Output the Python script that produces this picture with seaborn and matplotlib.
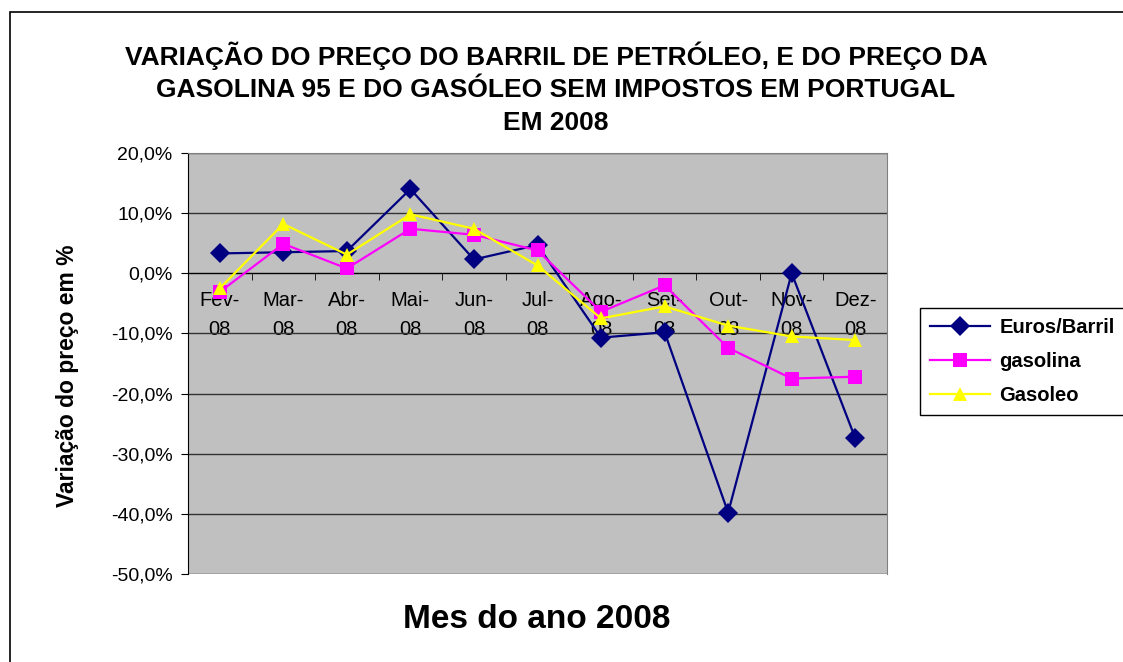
import numpy as np
import pandas as pd
import matplotlib
matplotlib.use('Agg')
import matplotlib.pyplot as plt
import seaborn as sns
from matplotlib.ticker import FuncFormatter, FixedLocator
from matplotlib.lines import Line2D
from matplotlib.patches import Rectangle

meses = ['Fev-\n08', 'Mar-\n08', 'Abr-\n08', 'Mai-\n08', 'Jun-\n08', 'Jul-\n08',
         'Ago-\n08', 'Set-\n08', 'Out-\n08', 'Nov-\n08', 'Dez-\n08']
euros_barril = [3.3, 3.5, 3.7, 14.0, 2.3, 4.7, -10.7, -9.8, -39.8, 0.0, -27.4]
gasolina = [-3.1, 4.9, 0.8, 7.4, 6.4, 3.8, -6.4, -2.0, -12.4, -17.5, -17.2]
gasoleo = [-2.5, 8.2, 3.1, 9.8, 7.4, 1.3, -7.5, -5.5, -8.7, -10.5, -11.1]
series = ['Euros/Barril', 'gasolina', 'Gasoleo']
cores = ['#000080', '#FF00FF', '#FFFF00']
marcadores = ['D', 's', '^']

df = pd.DataFrame({
    'pos': list(range(len(meses))) * 3,
    'valor': euros_barril + gasolina + gasoleo,
    'serie': [s for s in series for _ in meses],
})

plt.rcParams['font.family'] = ['Liberation Sans', 'DejaVu Sans']

fig = plt.figure(figsize=(11.23, 6.62), dpi=100)
ax = fig.add_axes([188/1123, 1-574/662, (887-188)/1123, (574-153)/662])
ax.set_facecolor('#C0C0C0')

# chart border
fig.patches.append(Rectangle((10/1123, -0.05), 1.2, 1-12/662+0.05, transform=fig.transFigure,
                             fill=False, edgecolor='black', linewidth=1.2, zorder=0))

sns.lineplot(data=df, x='pos', y='valor', hue='serie', style='serie', hue_order=series,
             palette=cores, markers=marcadores, dashes=False, markersize=10,
             markeredgewidth=0, linewidth=1.6, legend=False, ax=ax, zorder=3)

ax.set_ylim(-50, 20)
ax.set_xlim(-0.5, len(meses) - 0.5)
ax.yaxis.set_major_locator(FixedLocator(np.arange(-50, 21, 10)))
ax.yaxis.set_major_formatter(FuncFormatter(lambda v, p: f'{v:.1f}%'.replace('.', ',')))
ax.grid(axis='y', color='#333333', linewidth=1.0, zorder=1)
ax.set_axisbelow(True)
ax.tick_params(axis='y', labelsize=14, length=5, direction='out', color='black', pad=6)

# category axis crossing at zero
ax.spines['bottom'].set_position(('data', 0))
ax.spines['bottom'].set_color('black')
ax.spines['bottom'].set_zorder(2)
for s in ['top', 'right']:
    ax.spines[s].set_color('#808080')
ax.spines['left'].set_color('black')
ax.set_xticks(range(len(meses)))
ax.set_xticklabels(meses, fontsize=14.5, linespacing=1.65)
ax.set_xticks(np.arange(0.5, len(meses) - 0.5, 1), minor=True)
ax.tick_params(axis='x', which='major', length=0, pad=13)
ax.tick_params(axis='x', which='minor', length=5, direction='out', color='black')
ax.set_xlabel('')
ax.set_ylabel('Variação do preço em %', fontsize=16.5, fontweight='bold')
ax.yaxis.set_label_coords(-0.156, 0.47)

fig.text(556/1123, 1-88/662, 'VARIAÇÃO DO PREÇO DO BARRIL DE PETRÓLEO, E DO PREÇO DA\n'
         'GASOLINA 95 E DO GASÓLEO SEM IMPOSTOS EM PORTUGAL\nEM 2008',
         ha='center', va='center', fontsize=19, fontweight='bold', linespacing=1.45)
fig.text(537/1123, 1-620/662, 'Mes do ano 2008', ha='center', va='center',
         fontsize=24, fontweight='bold')

handles = [Line2D([0], [0], color=c, marker=m, markersize=10, markeredgewidth=0, linewidth=1.6)
           for c, m in zip(cores, marcadores)]
leg = fig.legend(handles, series, loc='upper left', bbox_to_anchor=(920/1123, 1-308/662),
                 frameon=True, fancybox=False, edgecolor='black', framealpha=1,
                 prop={'size': 14.5, 'weight': 'bold'}, handlelength=3.0, labelspacing=0.75,
                 borderpad=0.5, handletextpad=0.45, borderaxespad=0)
leg.get_frame().set_linewidth(1.0)

fig.savefig('out.png', dpi=100)
